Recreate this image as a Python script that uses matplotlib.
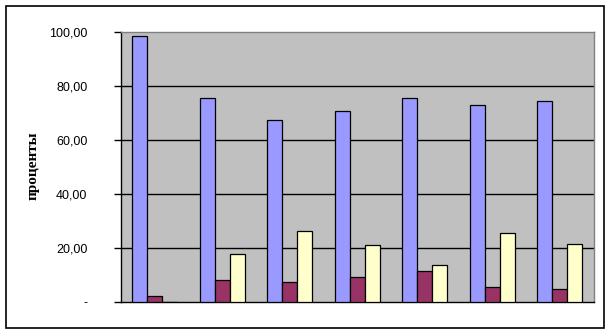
import numpy as np
import matplotlib
matplotlib.use("Agg")
import matplotlib.pyplot as plt
from matplotlib.patches import Rectangle

# данные (проценты) по группам
groups = np.arange(7)
series_blue = [98.4, 75.3, 67.2, 70.5, 75.3, 72.7, 74.2]
series_red = [2.0, 7.9, 7.2, 9.0, 11.2, 5.3, 4.6]
series_yellow = [0.0, 17.5, 26.2, 20.9, 13.5, 25.3, 21.3]
yticks = [0, 20, 40, 60, 80, 100]
ytick_labels = ["-", "20,00", "40,00", "60,00", "80,00", "100,00"]

W, H = 609, 332
fig = plt.figure(figsize=(W / 100, H / 100), dpi=100)
fig.patch.set_facecolor("white")

# рамка вокруг диаграммы
fig.patches.append(Rectangle((5.5 / W, (H - 327.5) / H), 598.5 / W, 322 / H,
                             transform=fig.transFigure, fill=False,
                             edgecolor="black", linewidth=1.2))

ax = fig.add_axes([120.7 / W, (H - 301.7) / H, 473 / W, 270 / H])
ax.set_facecolor("#C0C0C0")

bw = 1 / 4.5
kw = dict(width=bw, edgecolor="black", linewidth=0.9, zorder=3)
ax.bar(groups - bw, series_blue, color="#9999FF", **kw)
ax.bar(groups, series_red, color="#993366", **kw)
ax.bar(groups + bw, series_yellow, color="#FFFFCC", **kw)

ax.set_xlim(-0.5, 6.5)
ax.set_ylim(0, 100)
for v in yticks[1:-1]:
    ax.axhline(v, color="black", linewidth=1.0, zorder=1)

ax.set_yticks(yticks)
ax.set_yticklabels(ytick_labels, fontsize=9, family="Liberation Sans")
ax.tick_params(axis="y", direction="out", length=5, width=1, pad=19)
ax.set_xticks([])

ax.spines["left"].set_color("black")
ax.spines["bottom"].set_color("black")
ax.spines["top"].set_color("#808080")
ax.spines["right"].set_color("#808080")
for s in ax.spines.values():
    s.set_linewidth(1.0)

fig.text(33 / W, 1 - 166 / H, "проценты", rotation=90, ha="center", va="center",
         fontsize=11, fontweight="bold", family="Liberation Serif")

fig.savefig("out.png", dpi=100)
